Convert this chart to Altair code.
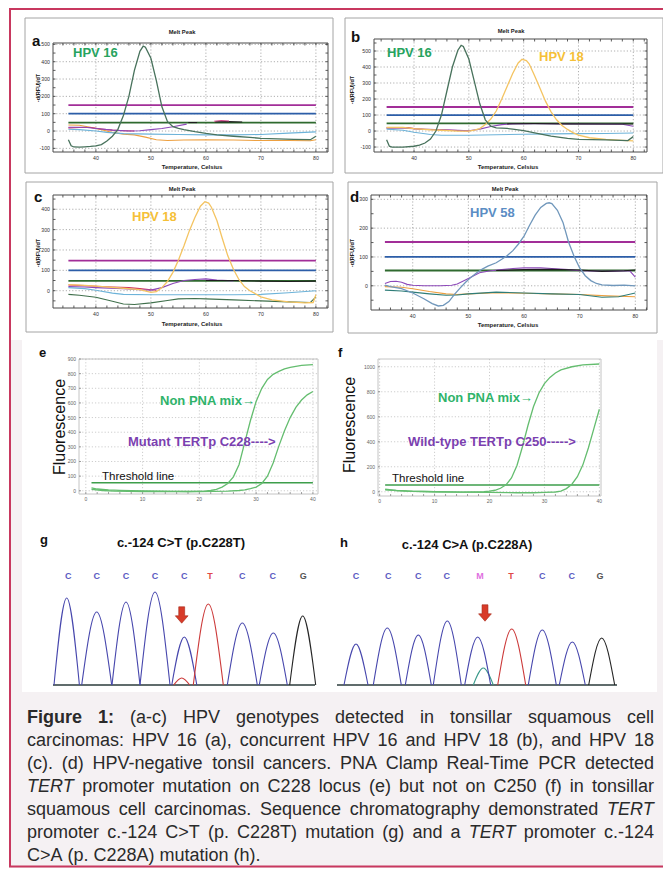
import altair as alt
import pandas as pd

# ===================== values =====================
MELT_X_TICKS = [40, 50, 60, 70, 80]
A_Y_TICKS = [-100, 0, 100, 200, 300, 400, 500]
B_Y_TICKS = [-100, 0, 100, 200, 300, 400, 500]
C_Y_TICKS = [0, 100, 200, 300, 400]
D_Y_TICKS = [0, 100, 200, 300]
LEVEL_SPAN = [35, 80]

A_LEVELS = {"magenta": 150, "blue": 100, "green": 48}
B_LEVELS = {"magenta": 150, "blue": 100, "green": 48}
C_LEVELS = {"magenta": 148, "blue": 100, "green": 48}
D_LEVELS = {"magenta": 152, "blue": 100, "green": 53}

A_CURVES = {
    "orange": [(35, 35), (37, 33), (39, 22), (41, 8), (43, -8), (45, -18), (47, -22), (49, -35), (51, -50), (53, -55),
               (56, -52), (60, -50), (65, -52), (70, -55), (75, -55), (79, -56), (80, -50)],
    "lightblue": [(35, 10), (37, 8), (40, 0), (42, -8), (45, -15), (50, -18), (55, -20), (60, -22), (65, -22),
                  (70, -20), (75, -12), (80, -5)],
    "red": [(35, 18), (37, 20), (39, 20), (41, 12), (43, 5), (45, 2), (47, 0)],
    "purple": [(35, 22), (38, 22), (40, 15), (43, 5), (46, 0), (48, 2), (50, 8), (52, 15), (54, 25), (56.5, 40)],
    "black#1": [(56.8, 49), (58.4, 49)],
    "black#2": [(61.7, 53), (64, 54), (66.6, 52)],
    "pink": [(61.5, 56), (62.8, 61), (64.2, 58)],
}
A_PEAKS = {
    "hpv16": [(35, -50), (35.5, -85), (36, -92), (37, -93), (38, -91), (39, -89), (40, -86), (41, -78), (42, -58),
              (43, -30), (44, 10), (45, 90), (46, 200), (47, 350), (48, 460), (48.6, 490), (49, 484), (50, 420),
              (51, 290), (52, 140), (53, 55), (54, 25), (55, 15), (56, 8), (57, 2), (58, -4), (60, -14), (62, -22),
              (65, -30), (68, -37), (70, -42), (73, -45), (76, -48), (79, -50), (80, -30)],
}

B_CURVES = {
    "red": [(35, 20), (37, 22), (39, 22), (40, 15), (42, 10), (45, 8), (48, 3), (50, 0)],
    "purple": [(35, 18), (37, 20), (40, 14), (45, 8), (48, 5), (50, 2), (52, 12), (54, 28), (56, 40), (58, 45),
               (62, 46), (70, 44), (78, 42), (80, 30)],
    "black": [(57, 45), (62, 47), (68, 45), (75, 44), (80, 44)],
    "lightblue": [(35, 12), (38, 5), (40, -8), (43, -22), (45, -26), (50, -26), (55, -23), (60, -20), (65, -18),
                  (70, -16), (75, -15), (80, -12)],
}
B_PEAKS = {
    "hpv18": [(35, 22), (38, 22), (40, 15), (43, 8), (45, 5), (48, 0), (50, 0), (51, 5), (52, 15), (53, 40),
              (54, 75), (55, 125), (56, 200), (57, 280), (58, 360), (59, 425), (59.7, 448), (60.5, 440), (61, 420),
              (62, 345), (63, 265), (64, 185), (65, 120), (66, 70), (67, 35), (68, 10), (69, -10), (70, -25),
              (72, -42), (75, -52), (78, -58), (80, -62)],
    "hpv16": [(35, -55), (35.5, -95), (36, -100), (38, -100), (40, -95), (41, -88), (42, -75), (43, -50), (44, 0),
              (45, 100), (46, 250), (47, 400), (48, 505), (48.6, 535), (49, 528), (50, 450), (51, 310), (52, 170),
              (53, 70), (54, 30), (55, 20), (56, 18), (57, 16), (58, 12), (60, 2), (62, -12), (65, -32), (68, -46),
              (70, -52), (75, -55), (79, -60), (80, -35)],
}

C_CURVES = {
    "red": [(35, 28), (38, 25), (40, 22), (43, 18), (46, 15), (48, 10), (50, 5), (51, 2)],
    "purple": [(35, 20), (38, 18), (40, 15), (45, 10), (48, 5), (50, 3), (52, 15), (54, 35), (56, 50), (58, 55),
               (60, 58), (62, 52), (65, 48)],
    "black": [(60, 50), (65, 50), (70, 47), (75, 45), (80, 47)],
    "lightblue": [(35, 15), (38, 10), (40, 2), (43, -12), (45, -18), (50, -20), (55, -20), (60, -20), (65, -20),
                  (70, -18), (75, -10), (80, 0)],
    "darkgreen": [(35, -18), (37, -22), (40, -32), (43, -52), (45, -65), (47, -68), (50, -60), (53, -48), (55, -40),
                  (58, -38), (60, -40), (65, -45), (70, -50), (75, -55), (79, -58), (80, -30)],
}
C_PEAKS = {
    "hpv18": [(35, 30), (38, 26), (40, 22), (45, 12), (48, 5), (50, -8), (51, -5), (52, 15), (53, 45), (54, 90),
              (55, 150), (56, 220), (57, 295), (58, 360), (59, 415), (59.8, 437), (60.5, 430), (61, 410), (62, 345),
              (63, 255), (64, 170), (65, 105), (66, 55), (67, 20), (68, 0), (70, -30), (72, -45), (75, -55),
              (78, -60), (79.5, -58), (80, -20)],
}

D_CURVES = {
    "orange": [(35, -3), (38, -5), (40, -10), (43, -20), (46, -28), (48, -30), (50, -28), (55, -24), (60, -26),
               (65, -28), (70, -30), (75, -35), (80, -38)],
    "teal": [(35, -15), (38, -18), (40, -22), (43, -28), (46, -33), (48, -32), (50, -28), (55, -22), (60, -25),
             (65, -28), (70, -30), (74, -40), (77, -38), (80, -25)],
    "purple": [(35, 8), (36, 15), (37, 16), (38, 12), (39, 5), (40, 2), (42, 0), (45, 0), (47, 2), (48, 6),
               (50, 25), (52, 45), (54, 52), (56, 56), (58, 60), (60, 62), (63, 62), (65, 60), (68, 56), (70, 52),
               (75, 50), (79, 52), (80, 30)],
    "black": [(55, 53), (60, 56), (65, 57), (70, 55), (74, 50), (78, 52), (80, 55)],
}
D_PEAKS = {
    "hpv58": [(35, 2), (36, -3), (38, -10), (40, -25), (42, -45), (43.5, -62), (44.6, -70), (45.5, -68),
              (46.5, -55), (47.5, -30), (48.5, -8), (49.5, 12), (50.5, 30), (51.5, 45), (52.5, 58), (53.5, 68),
              (55, 80), (56, 92), (57, 105), (58, 122), (59, 145), (60, 172), (61, 210), (62, 245), (63, 272),
              (64, 286), (64.5, 288), (65, 285), (66, 262), (67, 220), (68, 152), (69, 102), (70, 62), (71, 35),
              (72, 18), (73, 8), (74, 3), (76, 1), (78, 2), (80, 0)],
}

E_X_TICKS = [0, 10, 20, 30, 40]
E_Y_TICKS = [0, 100, 200, 300, 400, 500, 600, 700, 800, 900]
F_Y_TICKS = [0, 200, 400, 600, 800, 1000]
AMP_MINOR_X = [2, 4, 6, 8, 12, 14, 16, 18, 22, 24, 26, 28, 32, 34, 36, 38]
E_THRESHOLD = 55
F_THRESHOLD = 54
CYCLE_SPAN = [1, 40]
E_CURVES = {
    "nonpna": [(1, 20), (2, 12), (4, 6), (6, 3), (10, 0), (14, -3), (18, -5), (21, -3), (22, 2), (23, 10), (24, 25),
               (25, 50), (26, 95), (27, 180), (28, 330), (29, 480), (30, 610), (31, 700), (32, 760), (33, 795),
               (34, 815), (35, 832), (36, 843), (38, 856), (40, 862)],
    "mutant": [(1, 10), (3, 2), (5, -3), (10, -5), (15, -6), (20, -5), (25, -3), (27, 2), (28, 6), (29, 14),
               (30, 25), (31, 50), (32, 100), (33, 190), (34, 305), (35, 410), (36, 500), (37, 570), (38, 620),
               (39, 655), (40, 678)],
}
F_CURVES = {
    "nonpna": [(1, 20), (3, 10), (6, 4), (10, 0), (15, -3), (19, 0), (20, 5), (21, 12), (22, 28), (23, 55),
               (24, 110), (25, 210), (26, 360), (27, 530), (28, 680), (29, 790), (30, 865), (31, 915), (32, 950),
               (33, 975), (35, 1000), (37, 1015), (40, 1022)],
    "wild": [(1, 15), (5, 5), (10, 0), (15, -3), (20, -5), (25, -8), (28, -8), (30, -5), (32, -2), (33, 5),
             (34, 25), (35, 60), (36, 120), (37, 215), (38, 350), (39, 505), (40, 660)],
}

G_CENTERS = [26.7, 56.7, 86, 115, 144.3, 168.3, 202.3, 233.3, 262.7]
G_HEIGHTS = [87, 73, 83, 93, 48, 81, 62, 52, 69]
G_HALFW = [12.7, 15, 14, 15, 12.5, 15, 15, 14, 13]
G_BASES = ["C", "C", "C", "C", "C", "T", "C", "C", "G"]
G_MINOR = [(141.7, 7, 8, "T")]
G_LETTERS = ["C", "C", "C", "C", "C", "T", "C", "C", "G"]
G_LETTER_X = [28.3, 56.7, 86, 115, 144.3, 170, 202.3, 232.7, 263.3]
G_ARROW = (141.7, 70)

H_CENTERS = [21, 52.3, 83.3, 112.3, 142.7, 176.7, 207.3, 237.3, 266.7]
H_HEIGHTS = [41, 57, 50, 64, 48, 56, 55, 43, 47]
H_HALFW = [12, 14, 13, 14, 13, 14, 14, 13, 13]
H_BASES = ["C", "C", "C", "C", "C", "T", "C", "C", "G"]
H_MINOR = [(148.3, 17, 10, "A")]
H_LETTERS = ["C", "C", "C", "C", "M", "T", "C", "C", "G"]
H_LETTER_X = [21, 53.3, 83.3, 111.7, 145, 176, 207.3, 236.7, 265]
H_ARROW = (150, 72)

CAPTION = [
    "**Figure** **1:** (a-c) HPV genotypes detected in tonsillar squamous cell",
    "carcinomas: HPV 16 (a), concurrent HPV 16 and HPV 18 (b), and HPV 18",
    "(c). (d) HPV-negative tonsil cancers. PNA Clamp Real-Time PCR detected",
    "*TERT* promoter mutation on C228 locus (e) but not on C250 (f) in tonsillar",
    "squamous cell carcinomas. Sequence chromatography demonstrated *TERT*",
    "promoter c.-124 C>T (p. C228T) mutation (g) and a *TERT* promoter c.-124",
    "C>A (p. C228A) mutation (h).",
]

# ===================== styles and layout =====================
M = 8
W, H = 655, 860
FONT = "Liberation Sans"


def X(v):
    return v - M


def Y(v):
    return v - M


COL = {
    "magenta": "#a22e98", "blue": "#2c5ea8", "green": "#2f6a2f", "hpv16": "#48725c", "hpv18": "#f4c462",
    "orange": "#eda040", "lightblue": "#6db3d9", "red": "#d1345f", "purple": "#8d49b9", "black": "#1e1e1e",
    "hpv58": "#7097bb", "teal": "#2f7d78", "darkgreen": "#40704c", "pink": "#d24a8a",
}
COLOR_SCALE = alt.Scale(domain=list(COL.keys()), range=list(COL.values()))
PEAK_COL = {"C": "#4747ad", "T": "#cc3a3a", "G": "#262626", "A": "#3a9a8a"}
LETTER_COL = {"C": "#5b5bc2", "T": "#e04848", "G": "#555555", "M": "#e070e0"}

dummy = pd.DataFrame({"k": [0]})


def rect(x0, y0, x1, y1, **kw):
    return alt.Chart(dummy).mark_rect(**kw).encode(
        x=alt.value(X(x0)), x2=alt.value(X(x1)), y=alt.value(Y(y0)), y2=alt.value(Y(y1)))


def label(txt, x, y, **kw):
    kw.setdefault("font", FONT)
    return alt.Chart(dummy).mark_text(**kw).encode(
        x=alt.value(X(x)), y=alt.value(Y(y)), text=alt.value(txt))


def curve_df(curves):
    rows = []
    for sid, pts in curves.items():
        cname = sid.split("#")[0]
        for i, (x, y) in enumerate(pts):
            rows.append(dict(s=sid, c=cname, x=x, y=y, o=i))
    return pd.DataFrame(rows)


def level_curves(levels):
    return {k: [(LEVEL_SPAN[0], v), (LEVEL_SPAN[1], v)] for k, v in levels.items()}


def lines(df, xs, ys, width, colored=True, color=None):
    enc = dict(x=alt.X("x:Q", scale=xs, axis=None), y=alt.Y("y:Q", scale=ys, axis=None),
               detail="s:N", order="o:Q")
    if colored:
        enc["color"] = alt.Color("c:N", scale=COLOR_SCALE, legend=None)
        return alt.Chart(df).mark_line(strokeWidth=width).encode(**enc)
    return alt.Chart(df).mark_line(strokeWidth=width, color=color).encode(**enc)


def melt_panel(g, yticks, levels, curves, peaks, tags):
    x0, y0, x1, y1 = g["plot"]
    xs = alt.Scale(domain=list(g["xdom"]), range=[X(x0), X(x1)], nice=False, zero=False)
    ys = alt.Scale(domain=list(g["ydom"]), range=[Y(y1), Y(y0)], nice=False, zero=False)
    L = []
    fx0, fy0, fx1, fy1 = g["frame"]
    L.append(rect(fx0, fy0, fx1, fy1, fill="white", stroke="#a4a4a4", strokeWidth=1))
    L.append(rect(x0, y0, x1, y1, fill="white"))
    xt = pd.DataFrame({"v": MELT_X_TICKS, "t": [str(v) for v in MELT_X_TICKS]})
    yt = pd.DataFrame({"v": yticks, "t": [str(v) for v in yticks]})
    grid = dict(color="#8c8c8c", strokeWidth=0.7, strokeDash=[1.2, 2])
    L.append(alt.Chart(xt).mark_rule(**grid).encode(
        x=alt.X("v:Q", scale=xs, axis=None), y=alt.value(Y(y0)), y2=alt.value(Y(y1))))
    L.append(alt.Chart(yt).mark_rule(**grid).encode(
        y=alt.Y("v:Q", scale=ys, axis=None), x=alt.value(X(x0)), x2=alt.value(X(x1))))
    mx = pd.DataFrame({"v": [v for v in range(34, 83, 2) if g["xdom"][0] < v < g["xdom"][1]]})
    my = pd.DataFrame({"v": [v for v in range(-100, 600, 50) if g["ydom"][0] < v < g["ydom"][1]]})
    tk = dict(color="#333333", strokeWidth=0.8)
    for ya, yb in ((y1, y1 - 2.5), (y0, y0 + 2.5)):
        L.append(alt.Chart(mx).mark_rule(**tk).encode(
            x=alt.X("v:Q", scale=xs, axis=None), y=alt.value(Y(ya)), y2=alt.value(Y(yb))))
    for xa, xb in ((x0, x0 + 2.5), (x1, x1 - 2.5)):
        L.append(alt.Chart(my).mark_rule(**tk).encode(
            y=alt.Y("v:Q", scale=ys, axis=None), x=alt.value(X(xa)), x2=alt.value(X(xb))))
    L.append(alt.Chart(xt).mark_text(fontSize=5.2, color="#333", baseline="top", font=FONT).encode(
        x=alt.X("v:Q", scale=xs, axis=None), y=alt.value(Y(y1) + 3.5), text="t:N"))
    L.append(alt.Chart(yt).mark_text(fontSize=5.2, color="#333", align="right", baseline="middle",
                                     font=FONT).encode(
        y=alt.Y("v:Q", scale=ys, axis=None), x=alt.value(X(x0) - 3), text="t:N"))
    L.append(lines(curve_df(level_curves(levels)), xs, ys, 1.8))
    L.append(lines(curve_df(curves), xs, ys, 1.1))
    L.append(lines(curve_df(peaks), xs, ys, 1.3))
    L.append(rect(x0, y0, x1, y1, fill="transparent", stroke="#4a4a4a", strokeWidth=1))
    L.append(label("Melt Peak", *g["title"], fontSize=5.8, fontWeight="bold", color="#222", baseline="middle"))
    L.append(label("Temperature, Celsius", *g["xtitle"], fontSize=6, fontWeight="bold", color="#222",
                   baseline="middle"))
    L.append(label("-d(RFU)/dT", *g["ytitle"], fontSize=5.5, fontWeight="bold", color="#222",
                   baseline="middle", angle=270))
    ch, lx, ly = g["letter"]
    L.append(label(ch, lx, ly, fontSize=15, fontWeight="bold", color="#111", align="left"))
    for txt, tx, ty, tc in tags:
        L.append(label(txt, tx, ty, fontSize=13, fontWeight="bold", color=tc, align="left", baseline="middle"))
    return L


def amp_panel(g, yticks, threshold, curves, letter, tags):
    x0, y0, x1, y1 = g["plot"]
    xs = alt.Scale(domain=list(g["xdom"]), range=[X(x0), X(x1)], nice=False, zero=False)
    ys = alt.Scale(domain=list(g["ydom"]), range=[Y(y1), Y(y0)], nice=False, zero=False)
    L = [rect(x0, y0, x1, y1, fill="white", stroke="#c4c4c4", strokeWidth=1)]
    xt = pd.DataFrame({"v": E_X_TICKS, "t": [str(v) for v in E_X_TICKS]})
    yt = pd.DataFrame({"v": yticks, "t": [str(v) for v in yticks]})
    grid = dict(color="#b8b8b8", strokeWidth=0.7, strokeDash=[1.2, 2])
    L.append(alt.Chart(xt).mark_rule(**grid).encode(
        x=alt.X("v:Q", scale=xs, axis=None), y=alt.value(Y(y0)), y2=alt.value(Y(y1))))
    L.append(alt.Chart(yt).mark_rule(**grid).encode(
        y=alt.Y("v:Q", scale=ys, axis=None), x=alt.value(X(x0)), x2=alt.value(X(x1))))
    mx = pd.DataFrame({"v": AMP_MINOR_X + E_X_TICKS})
    L.append(alt.Chart(mx).mark_rule(color="#888", strokeWidth=0.8).encode(
        x=alt.X("v:Q", scale=xs, axis=None), y=alt.value(Y(y1)), y2=alt.value(Y(y1) - 2)))
    L.append(alt.Chart(yt).mark_rule(color="#888", strokeWidth=0.8).encode(
        y=alt.Y("v:Q", scale=ys, axis=None), x=alt.value(X(x0)), x2=alt.value(X(x0) + 2)))
    L.append(alt.Chart(xt).mark_text(fontSize=5, color="#666", baseline="top", font=FONT).encode(
        x=alt.X("v:Q", scale=xs, axis=None), y=alt.value(Y(y1) + 3), text="t:N"))
    L.append(alt.Chart(yt).mark_text(fontSize=5, color="#666", align="right", baseline="middle",
                                     font=FONT).encode(
        y=alt.Y("v:Q", scale=ys, axis=None), x=alt.value(X(x0) - 3), text="t:N"))
    thr = curve_df({"green": [(CYCLE_SPAN[0], threshold), (CYCLE_SPAN[1], threshold)]})
    L.append(lines(thr, xs, ys, 1.4, colored=False, color="#3d9e4b"))
    L.append(lines(curve_df(curves), xs, ys, 1.3, colored=False, color="#64bd6f"))
    L.append(label(letter[0], letter[1], letter[2], fontSize=13, fontWeight="bold", color="#111", align="left"))
    L.append(label("Fluorescence", g["ylab"][0], g["ylab"][1], fontSize=16, color="#111", angle=270,
                   baseline="middle"))
    for txt, tx, ty, tc, fw, fs in tags:
        L.append(label(txt, tx, ty, fontSize=fs, fontWeight=fw, color=tc, align="left", baseline="middle"))
    return L


def chromat(g, centers, heights, halfw, bases, minor, letters, letter_x, arrow, title):
    xs = alt.Scale(domain=[0, g["xmax"]], range=[X(g["x0"]), X(g["x0"] + g["xmax"])], nice=False, zero=False)
    ys = alt.Scale(domain=[0, 100], range=[Y(685), Y(585)], nice=False, zero=False)
    pc = alt.Scale(domain=list(PEAK_COL.keys()), range=list(PEAK_COL.values()))
    lc = alt.Scale(domain=list(LETTER_COL.keys()), range=list(LETTER_COL.values()))
    L = []
    L.append(alt.Chart(dummy).mark_rule(color="#2b3b3b", strokeWidth=1.4).encode(
        x=alt.value(X(g["base"][0])), x2=alt.value(X(g["base"][1])), y=alt.value(Y(685))))

    def peak_rows(items, off):
        rows = []
        for i, (c, h, w, b) in enumerate(items):
            for j, (xx, yy) in enumerate(((c - w, 0), (c, h), (c + w, 0))):
                rows.append(dict(p=off + i, b=b, x=xx, y=yy, o=j))
        return pd.DataFrame(rows)

    for df in (peak_rows(minor, 100), peak_rows(list(zip(centers, heights, halfw, bases)), 0)):
        L.append(alt.Chart(df).mark_line(strokeWidth=1.1, interpolate="monotone").encode(
            x=alt.X("x:Q", scale=xs, axis=None), y=alt.Y("y:Q", scale=ys, axis=None), detail="p:N",
            order="o:Q", color=alt.Color("b:N", scale=pc, legend=None)))
    ld = pd.DataFrame({"l": letters, "x": letter_x})
    L.append(alt.Chart(ld).mark_text(fontSize=9, fontWeight="bold", font=FONT, baseline="middle").encode(
        x=alt.X("x:Q", scale=xs, axis=None), y=alt.value(Y(576)), text="l:N",
        color=alt.Color("l:N", scale=lc, legend=None)))
    ad = pd.DataFrame({"x": [arrow[0]], "y": [arrow[1]]})
    arrow_path = "M-0.36,-1 L0.36,-1 L0.36,0.1 L0.78,0.1 L0,1 L-0.78,0.1 L-0.36,0.1 Z"
    L.append(alt.Chart(ad).mark_point(shape=arrow_path, size=270, filled=True, fill="#d83b29",
                                      stroke="#a52818", strokeWidth=0.6, opacity=1).encode(
        x=alt.X("x:Q", scale=xs, axis=None), y=alt.Y("y:Q", scale=ys, axis=None)))
    L.append(label(g["letter"][0], g["letter"][1], g["letter"][2], fontSize=13, fontWeight="bold",
                   color="#111", align="left"))
    L.append(label(title, g["title"][0], g["title"][1], fontSize=13, fontWeight="bold", color="#111",
                   baseline="middle"))
    return L


# ---------- caption justification with Arial-compatible metrics ----------
REG = {" ": 278, "(": 333, ")": 333, ",": 278, "-": 333, ".": 278, ":": 278, ">": 584, "/": 278,
       "A": 667, "B": 667, "C": 722, "D": 722, "E": 667, "F": 611, "G": 778, "H": 722, "I": 278, "L": 556,
       "M": 833, "N": 722, "P": 667, "R": 722, "S": 667, "T": 611, "V": 667,
       "a": 556, "b": 556, "c": 500, "d": 556, "e": 556, "f": 278, "g": 556, "h": 556, "i": 222, "k": 500,
       "l": 222, "m": 833, "n": 556, "o": 556, "p": 556, "q": 556, "r": 333, "s": 500, "t": 278, "u": 556,
       "v": 500, "w": 722, "x": 500, "y": 500}
BOLD = {"F": 611, "i": 278, "g": 611, "u": 611, "r": 389, "e": 556, "1": 556, ":": 333}
CAP_FS = 18
CAP_L, CAP_R = 27, 654


def wwidth(w, st):
    tab = BOLD if st == "b" else REG
    return sum(tab.get(ch, REG.get(ch, 556)) for ch in w) * CAP_FS / 1000.0


cap_rows = []
for li, line in enumerate(CAPTION):
    words = []
    for tok in line.split(" "):
        if tok.startswith("**"):
            words.append((tok.strip("*"), "b"))
        elif tok.startswith("*"):
            words.append((tok.strip("*"), "i"))
        else:
            words.append((tok, "r"))
    widths = [wwidth(w, s) for w, s in words]
    if li < len(CAPTION) - 1:
        gap = (CAP_R - CAP_L - sum(widths)) / (len(words) - 1)
    else:
        gap = REG[" "] * CAP_FS / 1000.0
    xcur = CAP_L
    for (w, s), wd in zip(words, widths):
        cap_rows.append(dict(w=w, st=s, xp=X(xcur), yp=Y(722.5 + 23 * li)))
        xcur += wd + gap
cap_df = pd.DataFrame(cap_rows)

# ===================== assemble =====================
layers = []
layers.append(rect(9, 8, 669, 870, fill="#f5f1f3"))
layers.append(rect(11, 9, 667, 340, fill="white"))
layers.append(rect(22, 340, 657, 692, fill="white"))

GA = dict(frame=(25, 18, 333, 173), plot=(53, 43, 328, 152), xdom=(32.2, 82.2), ydom=(-121, 508),
          title=(182, 32), xtitle=(192, 167), ytitle=(38, 88), letter=("a", 32, 41))
GB = dict(frame=(345, 18, 663, 173), plot=(374, 39, 647, 152), xdom=(32.7, 82.5), ydom=(-131, 575),
          title=(511, 31), xtitle=(508, 167), ytitle=(352, 90), letter=("b", 351, 37))
GC = dict(frame=(26, 182, 333, 332), plot=(53, 195, 328, 308), xdom=(32.2, 82.2), ydom=(-85, 470),
          title=(182, 189), xtitle=(192, 324), ytitle=(38, 253), letter=("c", 34, 197))
GD = dict(frame=(348, 182, 657, 333), plot=(371, 195, 647, 310), xdom=(32.5, 82.1), ydom=(-84, 315),
          title=(505, 189), xtitle=(508, 325), ytitle=(352, 253), letter=("d", 350, 197))

layers += melt_panel(GA, A_Y_TICKS, A_LEVELS, A_CURVES, A_PEAKS, [("HPV 16", 73, 53, "#27a35e")])
layers += melt_panel(GB, B_Y_TICKS, B_LEVELS, B_CURVES, B_PEAKS,
                     [("HPV 16", 387, 53, "#27a35e"), ("HPV 18", 539, 57, "#f5c038")])
layers += melt_panel(GC, C_Y_TICKS, C_LEVELS, C_CURVES, C_PEAKS, [("HPV 18", 132, 217, "#f5c038")])
layers += melt_panel(GD, D_Y_TICKS, D_LEVELS, D_CURVES, D_PEAKS, [("HPV 58", 470, 213, "#5b8dc4")])

GE = dict(plot=(79, 359, 318, 494), xdom=(-1.2, 40.9), ydom=(-22, 900), ylab=(60, 427))
GF = dict(plot=(378, 359, 601, 496), xdom=(-0.3, 40.3), ydom=(-34, 1062), ylab=(350, 425))
GREEN_T, PURPLE_T = "#2fb36a", "#7b3fb0"
layers += amp_panel(GE, E_Y_TICKS, E_THRESHOLD, E_CURVES, ("e", 39, 353), [
    ("Non PNA mix\u2192", 160, 401, GREEN_T, "bold", 13),
    ("Mutant TERTp C228---->", 128, 442, PURPLE_T, "bold", 13),
    ("Threshold line", 102, 477, "#111", "normal", 11.5)])
layers += amp_panel(GF, F_Y_TICKS, F_THRESHOLD, F_CURVES, ("f", 338, 353), [
    ("Non PNA mix\u2192", 438, 398, GREEN_T, "bold", 13),
    ("Wild-type TERTp C250----->", 408, 442, PURPLE_T, "bold", 13),
    ("Threshold line", 392, 479, "#111", "normal", 11.5)])

GG = dict(x0=40, xmax=280, base=(53, 315), letter=("g", 40, 540), title=(181, 543))
GH = dict(x0=335, xmax=285, base=(337, 617), letter=("h", 340, 543), title=(467, 545))
layers += chromat(GG, G_CENTERS, G_HEIGHTS, G_HALFW, G_BASES, G_MINOR, G_LETTERS, G_LETTER_X, G_ARROW,
                  "c.-124 C>T (p.C228T)")
layers += chromat(GH, H_CENTERS, H_HEIGHTS, H_HALFW, H_BASES, H_MINOR, H_LETTERS, H_LETTER_X, H_ARROW,
                  "c.-124 C>A (p.C228A)")

for st, kw in (("r", {}), ("b", {"fontWeight": "bold"}), ("i", {"fontStyle": "italic"})):
    sub = cap_df[cap_df["st"] == st]
    layers.append(alt.Chart(sub).mark_text(fontSize=CAP_FS, font=FONT, color="#2a2a2a", align="left",
                                           baseline="alphabetic", **kw).encode(
        x=alt.X("xp:Q", scale=None), y=alt.Y("yp:Q", scale=None), text="w:N"))

layers.append(rect(10, 9, 669, 866.5, fill="transparent", stroke="#c8385f", strokeWidth=2))

chart = alt.layer(*layers).resolve_scale(
    x="independent", y="independent", color="independent"
).properties(
    width=W, height=H, padding=0, autosize=alt.AutoSizeParams(type="none"), background="white"
).configure_view(stroke="transparent")

chart.save("out.html", embed_options={"renderer": "svg", "actions": False})
